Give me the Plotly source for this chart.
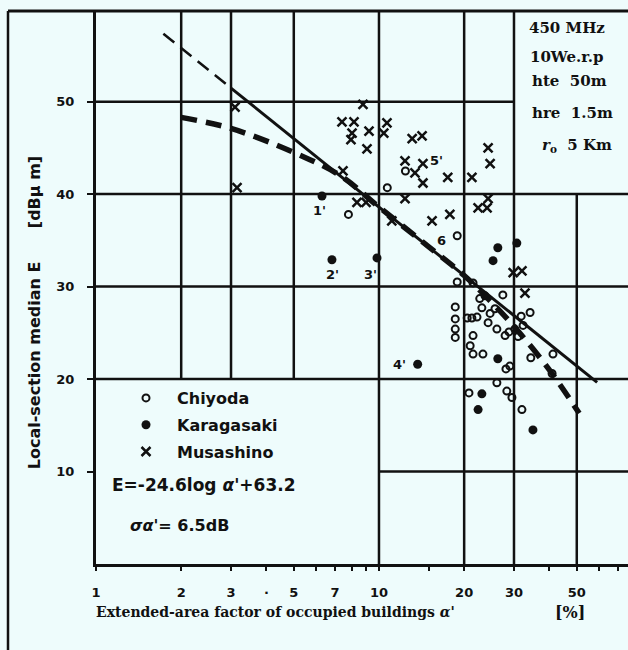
import math
import plotly.graph_objects as go

# ---- measured field strength, 450 MHz ----
# Chiyoda (open circles)
chiyoda_x = [10.7, 7.8, 12.4, 18.9, 18.9, 21.5, 18.6, 18.6, 18.6, 18.6,
             20.5, 21.3, 22.2, 21.0, 21.5, 21.5, 23.3, 23.7, 24.7, 24.3,
             25.7, 26.1, 27.4, 27.9, 28.8, 29.0, 28.1, 30.2, 31.0, 31.8,
             34.2, 32.3, 34.4, 41.2, 40.9, 26.1, 20.8, 28.3, 29.5, 32.0,
             22.7, 23.1]
chiyoda_y = [40.7, 37.8, 42.5, 35.5, 30.5, 30.4, 27.8, 26.5, 25.4, 24.5,
             26.6, 26.6, 26.7, 23.6, 24.7, 22.7, 22.7, 29.0, 27.1, 26.1,
             27.6, 25.4, 29.1, 24.7, 25.1, 21.4, 21.1, 25.4, 24.6, 26.8,
             27.2, 25.8, 22.3, 22.7, 20.6, 19.6, 18.5, 18.7, 18.0, 16.7,
             28.7, 27.7]

# Karagasaki (filled dots); the first four are the points 1'..4'
karagasaki_x = [6.29, 6.82, 9.84, 13.7, 30.7, 26.3, 25.3, 26.3, 23.1, 22.4, 35.0]
karagasaki_y = [39.8, 32.9, 33.1, 21.6, 34.7, 34.2, 32.8, 22.2, 18.4, 16.7, 14.5]

# Musashino (crosses)
musashino_x = [3.10, 3.15, 8.78, 7.40, 8.16, 8.03, 7.96, 9.22, 9.07, 10.67,
               10.4, 13.1, 14.2, 12.36, 13.4, 14.3, 14.3, 17.5, 21.3, 24.3,
               24.7, 12.36, 22.4, 24.3, 24.1, 8.36, 9.0, 7.46, 15.4, 17.8,
               32.0, 29.8, 32.8, 11.1]
musashino_y = [49.4, 40.7, 49.7, 47.8, 47.8, 46.6, 45.9, 46.8, 44.9, 47.7,
               46.6, 46.0, 46.3, 43.6, 42.3, 43.3, 41.2, 41.8, 41.8, 45.0,
               43.3, 39.5, 38.5, 39.5, 38.5, 39.1, 39.1, 42.5, 37.1, 37.8,
               31.7, 31.5, 29.3, 37.1]

# Regression E = -24.6 log a' + 63.2
fit_slope = -24.6
fit_icept = 63.2
fit_solid_x = [3.0, 59.0]
fit_ext_x = [1.73, 3.0]

# Smoothed median curve (thick dashed)
curve_x = [2, 3, 5, 7.3, 10, 15, 20, 25, 30, 40, 51]
curve_y = [48.3, 47.1, 44.5, 42.0, 38.6, 34.3, 31.2, 28.3, 25.7, 21.0, 16.3]

# Axis ticks
x_tickvals = [1, 2, 3, 4, 5, 7, 10, 20, 30, 50]
x_ticktext = ["1", "2", "3", "·", "5", "7", "10", "20", "30", "50"]
x_minor_vals = [6, 8, 9, 15, 40, 60, 70]
y_tickvals = [10, 20, 30, 40, 50]
y_ticktext = ["10", "20", "30", "40", "50"]

x_title = "Extended-area factor of occupied buildings <i>α</i>'"
x_unit = "[%]"
y_title = "Local-section median E"
y_unit = "[dBμ m]"

info_lines = ["450 MHz", "10We.r.p", "hte  50m", "hre  1.5m", "<i>r</i><sub>o</sub>  5 Km"]

BG = "#eefcfc"
INK = "#111111"
W, H = 628, 650
ML, MR, MT, MB = 96, 0, 11, 86
PW, PH = W - ML - MR, H - MT - MB
XMAX_LOG = 1.88
YMAX = 59.8


def fit(x):
    return fit_slope * math.log10(x) + fit_icept


def px_x(p):
    return (p - ML) / PW


def px_y(p):
    return (H - MB - p) / PH


fig = go.Figure()

# regression line and its dashed extension
fig.add_trace(go.Scatter(x=fit_solid_x, y=[fit(v) for v in fit_solid_x], mode="lines",
                         line=dict(color=INK, width=3), showlegend=False, hoverinfo="skip"))
fig.add_trace(go.Scatter(x=fit_ext_x, y=[fit(v) for v in fit_ext_x], mode="lines",
                         line=dict(color=INK, width=2.5, dash="14px,8px"),
                         showlegend=False, hoverinfo="skip"))
fig.add_trace(go.Scatter(x=curve_x, y=curve_y, mode="lines", line_shape="spline",
                         line=dict(color=INK, width=5.5, dash="16px,9px"),
                         showlegend=False, hoverinfo="skip"))

fig.add_trace(go.Scatter(x=chiyoda_x, y=chiyoda_y, mode="markers", name="Chiyoda",
                         legendgroup="c",
                         marker=dict(symbol="circle-open", size=7, color=INK,
                                     line=dict(width=2, color=INK))))
fig.add_trace(go.Scatter(x=karagasaki_x, y=karagasaki_y, mode="markers", name="Karagasaki",
                         legendgroup="k",
                         marker=dict(symbol="circle", size=9, color=INK)))
fig.add_trace(go.Scatter(x=musashino_x, y=musashino_y, mode="markers", name="Musashino",
                         legendgroup="m",
                         marker=dict(symbol="x-thin", size=9, color=INK,
                                     line=dict(width=2.5, color=INK))))

# partial grid: the legend panel and the info panel are left open
grid_v = [(2, 20, YMAX), (3, 20, YMAX), (5, 20, YMAX), (10, 0, YMAX),
          (20, 0, YMAX), (30, 0, YMAX), (50, 0, 40)]
grid_h = [(10, 10, 10 ** XMAX_LOG), (20, 1, 10 ** XMAX_LOG), (30, 1, 10 ** XMAX_LOG),
          (40, 1, 10 ** XMAX_LOG), (50, 1, 30)]
shapes = []
for xv, y0, y1 in grid_v:
    shapes.append(dict(type="line", xref="x", yref="y", x0=xv, x1=xv, y0=y0, y1=y1,
                       line=dict(color=INK, width=2.5), layer="below"))
for yv, x0, x1 in grid_h:
    shapes.append(dict(type="line", xref="x", yref="y", x0=x0, x1=x1, y0=yv, y1=yv,
                       line=dict(color=INK, width=2.5), layer="below"))
# outer frame (left and top edges)
shapes.append(dict(type="line", xref="paper", yref="paper", x0=px_x(8), x1=px_x(8),
                   y0=px_y(H), y1=1, line=dict(color=INK, width=2.5)))
shapes.append(dict(type="line", xref="paper", yref="paper", x0=px_x(8), x1=1,
                   y0=1, y1=1, line=dict(color=INK, width=3)))

annotations = []
SERIF = dict(family="DejaVu Serif", size=15, color=INK, weight="bold")
annotations.append(dict(xref="paper", yref="paper", x=px_x(110), y=px_y(485),
                        xanchor="left", yanchor="middle", showarrow=False,
                        text="E=-24.6log <i>α</i>'+63.2",
                        font=dict(family="DejaVu Sans", size=17, color=INK, weight="bold")))
annotations.append(dict(xref="paper", yref="paper", x=px_x(128), y=px_y(525),
                        xanchor="left", yanchor="middle", showarrow=False,
                        text="<i>σα'</i>= 6.5dB",
                        font=dict(family="DejaVu Sans", size=16, color=INK, weight="bold")))
info_y = [28, 57, 81, 113, 145]
info_x = [527, 528, 530, 530, 540]
for t, yy, xx in zip(info_lines, info_y, info_x):
    annotations.append(dict(xref="paper", yref="paper", x=px_x(xx), y=px_y(yy),
                            xanchor="left", yanchor="middle", showarrow=False,
                            text=t, font=SERIF))

# x-axis caption and unit
XT_FONT = dict(family="DejaVu Serif", size=14, color=INK, weight="bold")
annotations.append(dict(xref="paper", yref="paper", x=px_x(94), y=px_y(612),
                        xanchor="left", yanchor="middle", showarrow=False,
                        text=x_title, font=XT_FONT))
annotations.append(dict(xref="paper", yref="paper", x=px_x(553), y=px_y(612),
                        xanchor="left", yanchor="middle", showarrow=False,
                        text=x_unit, font=dict(family="DejaVu Serif", size=16, color=INK,
                                               weight="bold")))

# numbered points
pt_labels = [
    ("1'", karagasaki_x[0], karagasaki_y[0], -3, -15),
    ("2'", karagasaki_x[1], karagasaki_y[1], 1, -15),
    ("3'", karagasaki_x[2], karagasaki_y[2], -7, -17),
    ("4'", karagasaki_x[3], karagasaki_y[3], -18, 0),
    ("5'", musashino_x[15], musashino_y[15], 14, 3),
    ("6", chiyoda_x[3], chiyoda_y[3], -16, -5),
]
for t, xv, yv, dx, dy in pt_labels:
    annotations.append(dict(x=math.log10(xv), y=yv, xref="x", yref="y", text=t,
                            showarrow=False, xshift=dx, yshift=dy,
                            font=dict(family="DejaVu Sans", size=13, color=INK, weight="bold")))

nb = "&nbsp;"
fig.update_layout(
    width=W, height=H, autosize=False,
    margin=dict(l=ML, r=MR, t=MT, b=MB, pad=0),
    paper_bgcolor=BG, plot_bgcolor=BG,
    shapes=shapes, annotations=annotations,
    showlegend=True,
    legend=dict(x=px_x(115), y=px_y(381), xanchor="left", yanchor="top",
                bgcolor="rgba(0,0,0,0)", borderwidth=0, traceorder="grouped",
                tracegroupgap=3, itemwidth=52,
                font=dict(family="DejaVu Sans", size=16, color=INK, weight="bold")),
    xaxis=dict(type="log", range=[0, XMAX_LOG], showgrid=False, zeroline=False,
               showline=True, linecolor=INK, linewidth=3,
               tickmode="array", tickvals=x_tickvals, ticktext=x_ticktext,
               ticks="outside", ticklen=4, tickwidth=2, tickcolor=INK,
               minor=dict(tickmode="array", tickvals=x_minor_vals, ticks="outside",
                          ticklen=4, tickwidth=2, tickcolor=INK, showgrid=False),
               ticklabelstandoff=10,
               tickfont=dict(family="DejaVu Sans", size=13, color=INK, weight="bold"),
               automargin=False),
    yaxis=dict(range=[0, YMAX], showgrid=False, zeroline=False,
               showline=True, linecolor=INK, linewidth=3,
               tickmode="array", tickvals=y_tickvals, ticktext=y_ticktext,
               ticks="outside", ticklen=6, tickwidth=2, tickcolor=INK,
               ticklabelstandoff=10,
               tickfont=dict(family="DejaVu Sans", size=13, color=INK, weight="bold"),
               title=dict(text=y_title + nb * 6 + y_unit + nb * 9,
                          standoff=12,
                          font=dict(family="DejaVu Sans", size=16, color=INK, weight="bold")),
               automargin=False),
)

fig.write_html("out.html")
